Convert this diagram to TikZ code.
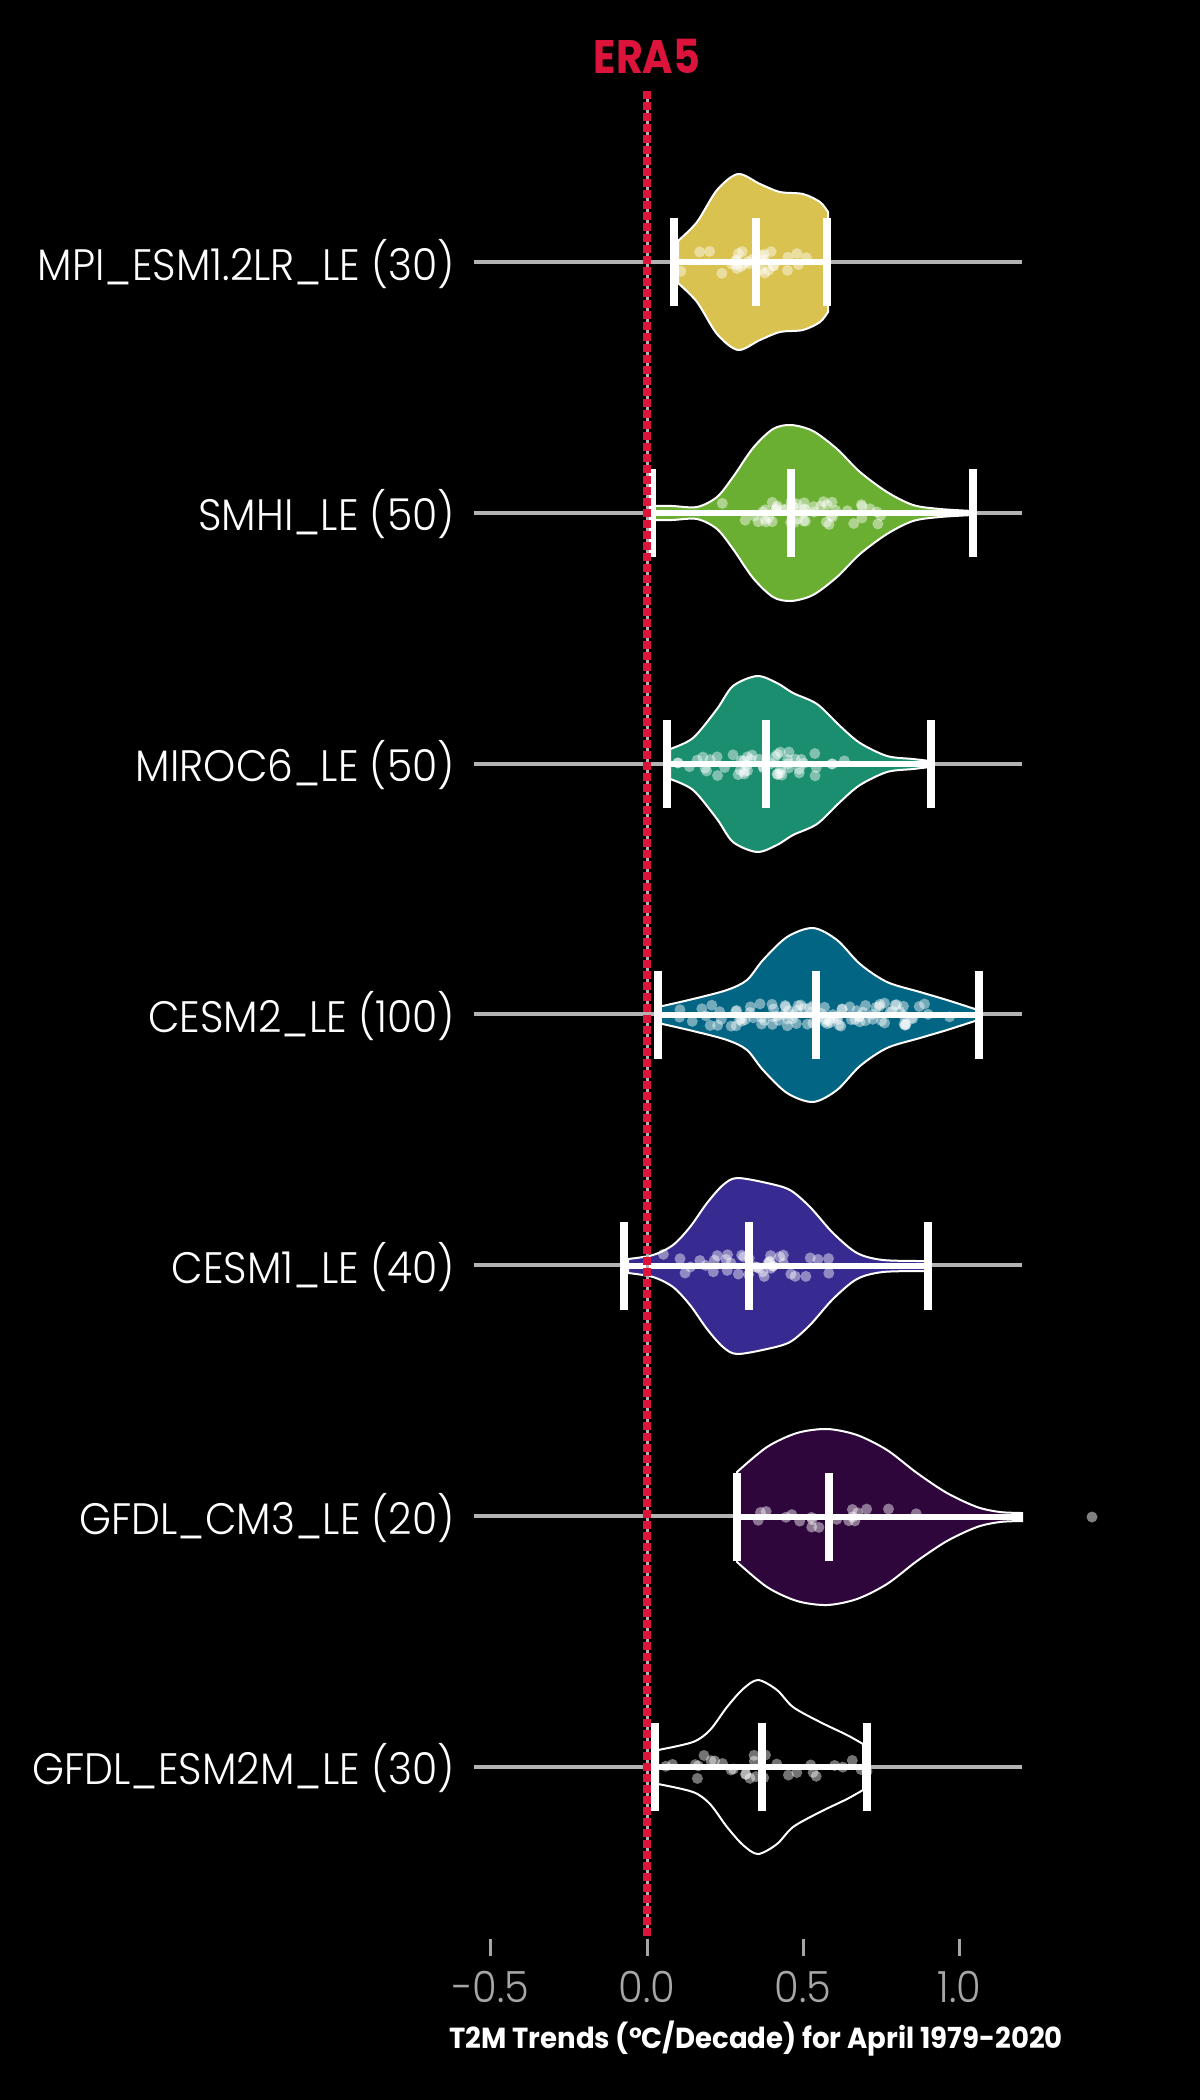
\documentclass[tikz,border=0pt]{standalone}
\usepackage{fontspec}
\setmainfont{Poppins}[FakeStretch=0.95]
\newfontfamily\thinfont{Poppins Light}[FakeStretch=0.93]
\newfontfamily\erafont{Poppins}[FakeStretch=0.88]
\usepackage{tikz}
\usetikzlibrary{positioning}

\definecolor{era}{HTML}{DC143C}
\definecolor{gridgray}{HTML}{B3B3B3}
\definecolor{tickgray}{HTML}{A6A6A6}
\definecolor{mpi}{HTML}{D9C24F}
\definecolor{smhi}{HTML}{6AAF32}
\definecolor{miroc}{HTML}{1A8E6E}
\definecolor{cesmtwo}{HTML}{026583}
\definecolor{cesmone}{HTML}{372B91}
\definecolor{cmthree}{HTML}{2E063B}

% violin: row, fill, left end, right end, upper outline
\newcommand{\violin}[5]{%
  \foreach \s in {1,-1}
    \filldraw[violin, fill=#2, shift={(0,#1)}, yscale=\s]
      (#3,0) -- plot[smooth] coordinates {#5} -- (#4,0);
}
% members: row, count, centre, spread, lo, hi
\newcommand{\members}[6]{%
  \foreach \k in {1,...,#2}{
    \pgfmathsetmacro\mx{max(#5,min(#6,#3+#4*(rnd+rnd-1)))}
    \pgfmathsetmacro\my{#1+24*(rnd-0.5)}
    \fill[member] (\mx,\my) circle[radius=5.5pt];
  }
}
% whisker: row, from, to, caps
\newcommand{\whisker}[4]{%
  \draw[spanline] (#2,#1) -- (#3,#1);
  \foreach \bx in {#4} \draw[capbar] (\bx,#1-44) -- (\bx,#1+44);
}

\begin{document}
\begin{tikzpicture}[x=1pt, y=-1pt,
                    violin/.style={draw=white, line width=2pt},
                    member/.style={fill=white, fill opacity=0.45},
                    spanline/.style={white, line width=6pt},
                    capbar/.style={white, line width=8pt},
                    rowline/.style={gridgray, line width=4pt},
                    model/.style={white, inner sep=0pt, font=\thinfont\fontsize{44}{44}\selectfont},
                    ticklab/.style={tickgray, inner sep=0pt, font=\thinfont\fontsize{43}{43}\selectfont}]

\fill[black] (0,0) rectangle (1200,2100);
\useasboundingbox (0,0) rectangle (1200,2100);

% model rows
\foreach \i/\name in {0/{MPI\_ESM1.2LR\_LE (30)}, 1/{SMHI\_LE (50)},
                      2/{MIROC6\_LE (50)}, 3/{CESM2\_LE (100)},
                      4/{CESM1\_LE (40)}, 5/{GFDL\_CM3\_LE (20)},
                      6/{GFDL\_ESM2M\_LE (30)}}{
  \pgfmathsetmacro\ry{262+250.8*\i}
  \draw[rowline] (474,\ry) -- (1022,\ry);
  \node[model, anchor=base east] (lab\i) at (455,\ry+18) {\name};
}

\violin{262}{mpi}{678}{828}{(678,21) (697,40) (717,72) (738,88) (760,78) (780,70) (803,68) (820,60) (828,50)}
\violin{513}{smhi}{652}{973}{(652,7) (672,7) (697,6) (717,16) (733,36) (753,65) (773,84) (791,88) (813,82) (837,64) (860,41) (887,21) (913,8) (940,4) (973,2)}
\violin{764}{miroc}{670}{930}{(670,15) (693,26) (717,55) (733,78) (757,88) (777,81) (793,71) (817,60) (840,38) (860,21) (887,8) (913,5) (930,3)}
\violin{1015}{cesmtwo}{658}{978}{(658,8) (693,16) (727,25) (747,35) (763,55) (787,78) (813,87) (837,75) (860,51) (887,33) (920,23) (947,15) (978,5)}
\violin{1266}{cesmone}{628}{925}{(628,7) (653,11) (673,21) (690,39) (707,63) (723,81) (737,88) (767,83) (790,76) (810,59) (833,33) (857,13) (883,6) (925,5)}
\violin{1517}{cmthree}{737}{1022}{(737,45) (767,70) (797,84) (827,88) (857,82) (887,67) (917,44) (947,24) (977,10) (1000,5) (1022,4)}
\violin{1767}{none}{658}{863}{(658,17) (693,25) (710,37) (727,60) (743,78) (758,87) (777,77) (793,60) (820,45) (847,32) (863,23)}

\pgfmathsetseed{4211}
\members{262}{30}{752}{75}{674}{827}
\members{513}{50}{805}{95}{652}{973}
\members{764}{50}{765}{105}{667}{931}
\members{1015}{100}{815}{150}{658}{979}
\members{1266}{40}{750}{95}{624}{928}
\members{1517}{19}{830}{100}{737}{940}
\members{1767}{30}{762}{110}{655}{867}
\fill[gray] (1092,1517) circle[radius=5.5pt];

\whisker{262}{674}{827}{674,756,827}
\whisker{513}{652}{973}{652,791,973}
\whisker{764}{667}{931}{667,766,931}
\whisker{1015}{658}{979}{658,816,979}
\whisker{1266}{624}{928}{624,749,928}
\whisker{1517}{737}{1022}{737,829}
\whisker{1767}{655}{867}{655,762,867}

% ERA5 reference
\coordinate (zerotop) at (647,91);
\coordinate (zerobot) at (647,1936);
\draw[gridgray, line width=3pt] (zerotop) -- (zerobot);
\draw[era, line width=8pt, dash pattern=on 8.3pt off 2.7pt] (zerotop) -- (zerobot);
\node[era, anchor=base, inner sep=0pt, font=\erafont\bfseries\fontsize{47}{47}\selectfont] (eralab) at (647,74) {ERA5};

% x axis
\foreach \v/\lab [count=\j] in {-0.5/-0.5, 0/0.0, 0.5/0.5, 1/1.0}{
  \draw[tickgray, line width=3pt] (647+312.4*\v,1939) -- (647+312.4*\v,1956);
  \node[ticklab, anchor=base] (xt\j) at (647+312.4*\v,2002) {\lab};
}
\node[white, anchor=base, inner sep=0pt, font=\bfseries\fontsize{29}{29}\selectfont] (xtitle) at (756,2048)
  {T2M Trends (°C/Decade) for April 1979-2020};
\end{tikzpicture}
\end{document}
